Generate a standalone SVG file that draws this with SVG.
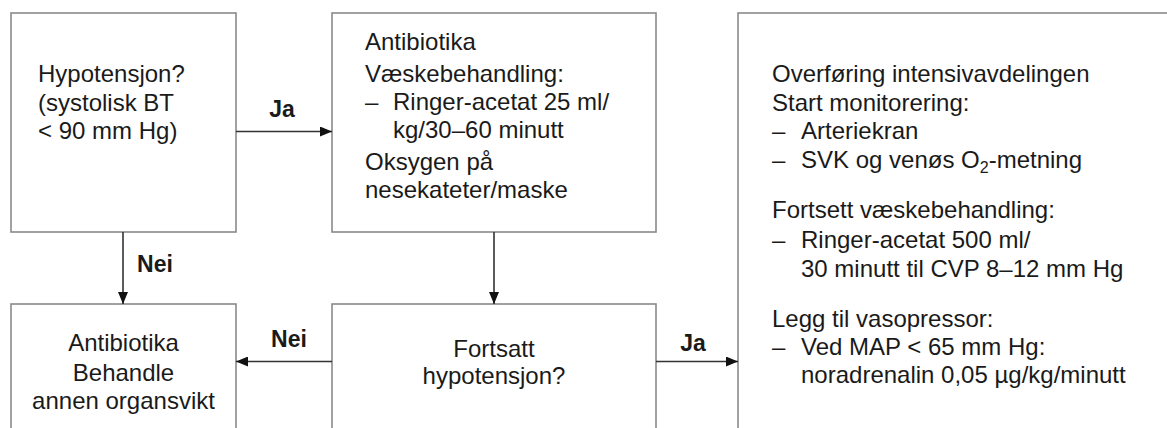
<svg xmlns="http://www.w3.org/2000/svg" width="1167" height="428" viewBox="0 0 1167 428">
<style>
.box{fill:#fff;stroke:#8a8a8a;stroke-width:1.6}
.t{font-family:"Liberation Sans",Arial,sans-serif;font-size:24px;fill:#1a1a1a}
.c{text-anchor:middle}
.lbl{font-family:"Liberation Sans",Arial,sans-serif;font-size:23px;font-weight:bold;fill:#1a1a1a;text-anchor:middle}
.ln{stroke:#333;stroke-width:1.6;fill:none;marker-end:url(#ah)}
</style>
<defs>
<marker id="ah" viewBox="0 0 12 10" refX="12" refY="5" markerWidth="12" markerHeight="10" markerUnits="userSpaceOnUse" orient="auto">
<path d="M0,0 L12,5 L0,10 Z" fill="#111"/>
</marker>
</defs>
<rect width="1167" height="428" fill="#fff"/>
<g id="n1">
<rect class="box" x="11" y="13" width="225" height="219"/>
<text class="t" x="38" y="82">Hypotensjon?</text>
<text class="t" x="38" y="111">(systolisk BT</text>
<text class="t" x="38" y="139">&lt; 90 mm Hg)</text>
</g>
<g id="n2">
<rect class="box" x="332" y="13" width="324" height="219"/>
<text class="t" x="365" y="50">Antibiotika</text>
<text class="t" x="365" y="82">Væskebehandling:</text>
<text class="t" x="365" y="110">–</text>
<text class="t" x="393" y="110">Ringer-acetat 25 ml/</text>
<text class="t" x="393" y="138">kg/30–60 minutt</text>
<text class="t" x="365" y="170">Oksygen på</text>
<text class="t" x="365" y="198">nesekateter/maske</text>
</g>
<g id="n3">
<rect class="box" x="738" y="13" width="500" height="500"/>
<text class="t" x="772" y="82">Overføring intensivavdelingen</text>
<text class="t" x="772" y="111">Start monitorering:</text>
<text class="t" x="772" y="139">–</text>
<text class="t" x="801" y="139">Arteriekran</text>
<text class="t" x="772" y="168">–</text>
<text class="t" x="801" y="168">SVK og venøs O<tspan font-size="16" dy="5">2</tspan><tspan dy="-5">-metning</tspan></text>
<text class="t" x="772" y="218">Fortsett væskebehandling:</text>
<text class="t" x="772" y="248">–</text>
<text class="t" x="801" y="248">Ringer-acetat 500 ml/</text>
<text class="t" x="801" y="277">30 minutt til CVP 8–12 mm Hg</text>
<text class="t" x="772" y="327">Legg til vasopressor:</text>
<text class="t" x="772" y="355">–</text>
<text class="t" x="801" y="355">Ved MAP &lt; 65 mm Hg:</text>
<text class="t" x="801" y="383">noradrenalin 0,05 µg/kg/minutt</text>
</g>
<g id="n4">
<rect class="box" x="11" y="304" width="225" height="200"/>
<text class="t c" x="123.5" y="351">Antibiotika</text>
<text class="t c" x="123.5" y="381">Behandle</text>
<text class="t c" x="123.5" y="409">annen organsvikt</text>
</g>
<g id="n5">
<rect class="box" x="332" y="304" width="324" height="200"/>
<text class="t c" x="494" y="357">Fortsatt</text>
<text class="t c" x="494" y="384">hypotensjon?</text>
</g>
<g id="connectors">
<line class="ln" x1="236" y1="131.5" x2="332" y2="131.5"/>
<text class="lbl" x="282" y="117">Ja</text>
<line class="ln" x1="123" y1="232" x2="123" y2="304"/>
<text class="lbl" x="155" y="272">Nei</text>
<line class="ln" x1="494" y1="232" x2="494" y2="304"/>
<line class="ln" x1="332" y1="361.5" x2="236" y2="361.5"/>
<text class="lbl" x="289" y="347">Nei</text>
<line class="ln" x1="656" y1="361.5" x2="738" y2="361.5"/>
<text class="lbl" x="693" y="351">Ja</text>
</g>
</svg>
